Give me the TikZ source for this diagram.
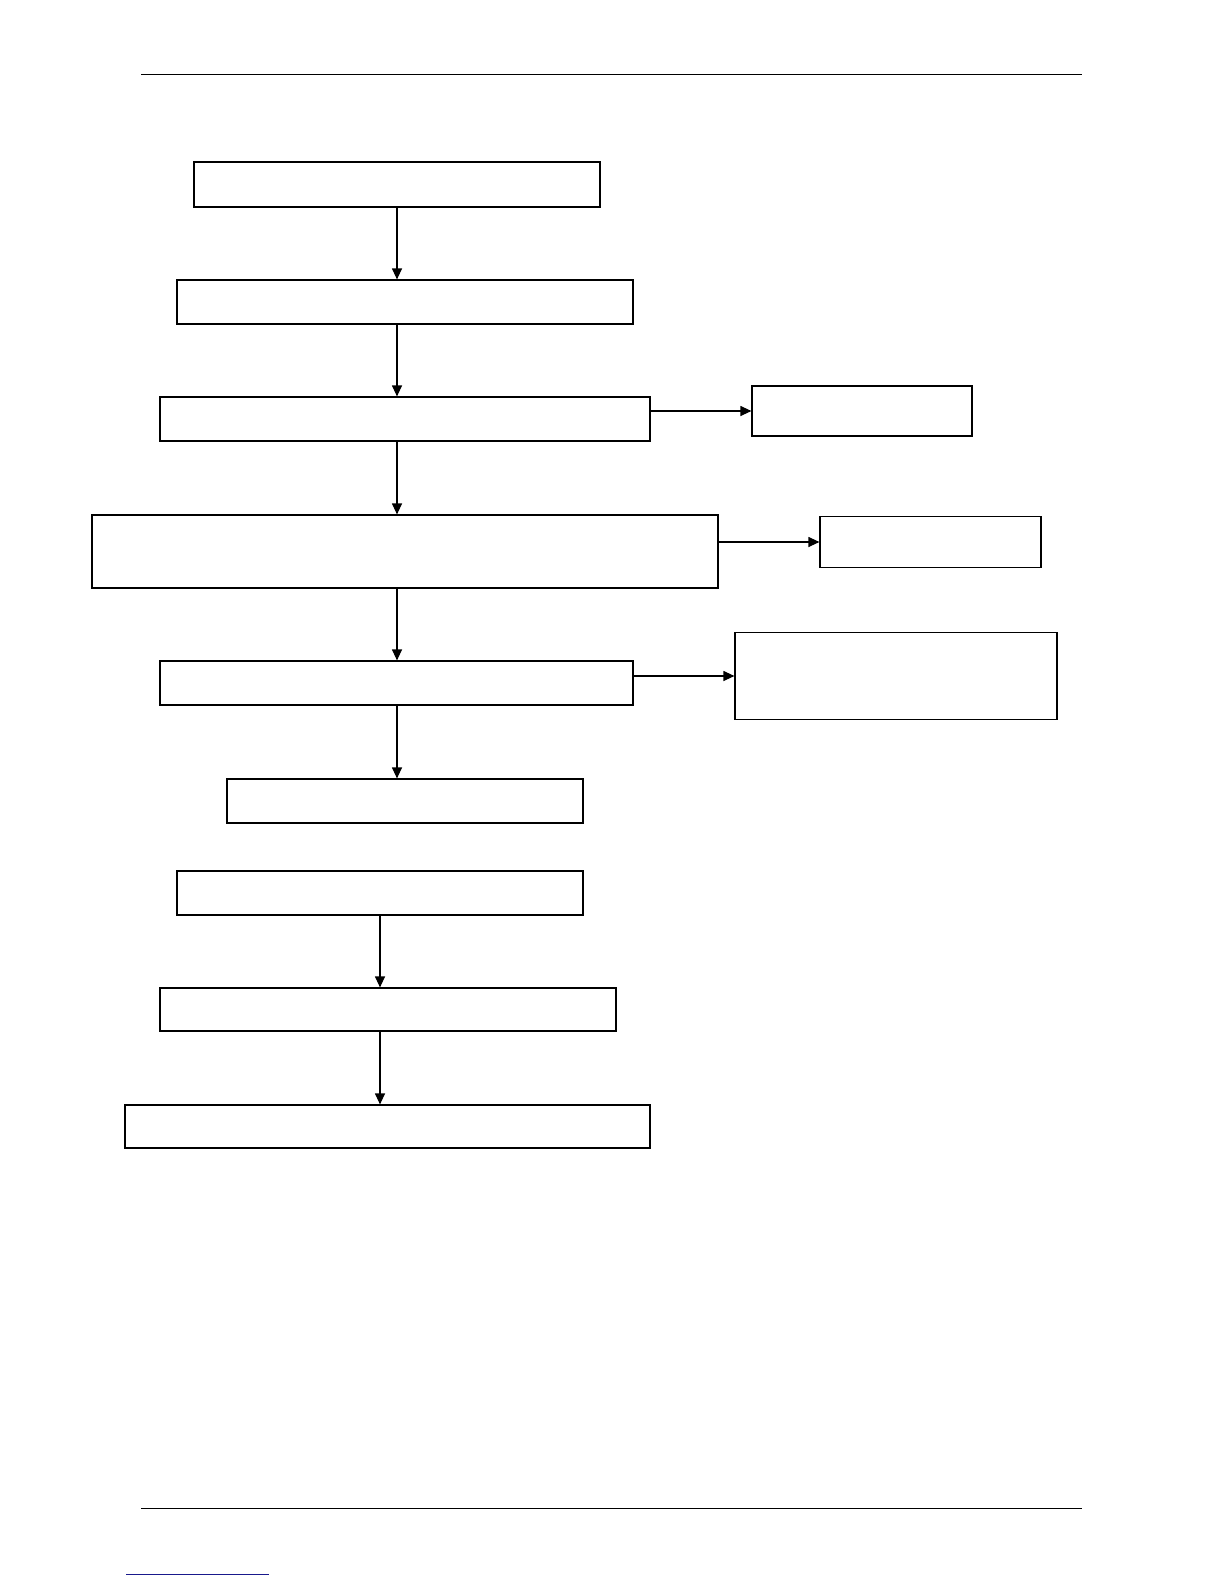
\documentclass[tikz,border=0pt]{standalone}
\usepackage{tikz}
\usetikzlibrary{arrows.meta,calc,positioning}
\definecolor{linkblue}{RGB}{25,25,140}

\begin{document}
\begin{tikzpicture}[x=1pt,y=-1pt,
every node/.style={rectangle,draw,line width=1.2pt,inner sep=0pt},
flow/.style={line width=1.2pt,-{Triangle[length=11pt,width=10pt]}}]
\useasboundingbox (0,0) rectangle (1224,1584);
\draw[line width=1pt] (141,75) -- (1082,75);
\draw[line width=1pt] (141,1508) -- (1082,1508);
\draw[line width=1pt,linkblue] (126,1574) -- (269,1574);
\node[minimum width=406pt,minimum height=45pt] (B1) at (397,184.5) {};
\node[minimum width=456pt,minimum height=44pt] (B2) at (405,302) {};
\node[minimum width=490pt,minimum height=44pt] (B3) at (405,419) {};
\node[minimum width=626pt,minimum height=73pt] (B4) at (405,551.5) {};
\node[minimum width=473pt,minimum height=44pt] (B5) at (396.5,683) {};
\node[minimum width=356pt,minimum height=44pt] (B6) at (405,801) {};
\node[minimum width=220pt,minimum height=50pt] (R1) at (862,411) {};
\node[minimum width=221pt,minimum height=51pt] (R2) at (930.5,542) {};
\node[minimum width=322pt,minimum height=87pt] (R3) at (896,676) {};
\node[minimum width=406pt,minimum height=44pt] (B7) at (380,893) {};
\node[minimum width=456pt,minimum height=43pt] (B8) at (388,1009.5) {};
\node[minimum width=525pt,minimum height=43pt] (B9) at (387.5,1126.5) {};
\draw[flow] (B1.south) -- (B1.south |- B2.north);
\draw[flow] (B1.south |- B2.south) -- (B1.south |- B3.north);
\draw[flow] (B1.south |- B3.south) -- (B1.south |- B4.north);
\draw[flow] (B1.south |- B4.south) -- (B1.south |- B5.north);
\draw[flow] (B1.south |- B5.south) -- (B1.south |- B6.north);
\draw[flow] (B3.east |- R1.west) -- (R1.west);
\draw[flow] (B4.east |- R2.west) -- (R2.west);
\draw[flow] (B5.east |- R3.west) -- (R3.west);
\draw[flow] (B7.south) -- (B7.south |- B8.north);
\draw[flow] (B7.south |- B8.south) -- (B7.south |- B9.north);
\end{tikzpicture}
\end{document}
